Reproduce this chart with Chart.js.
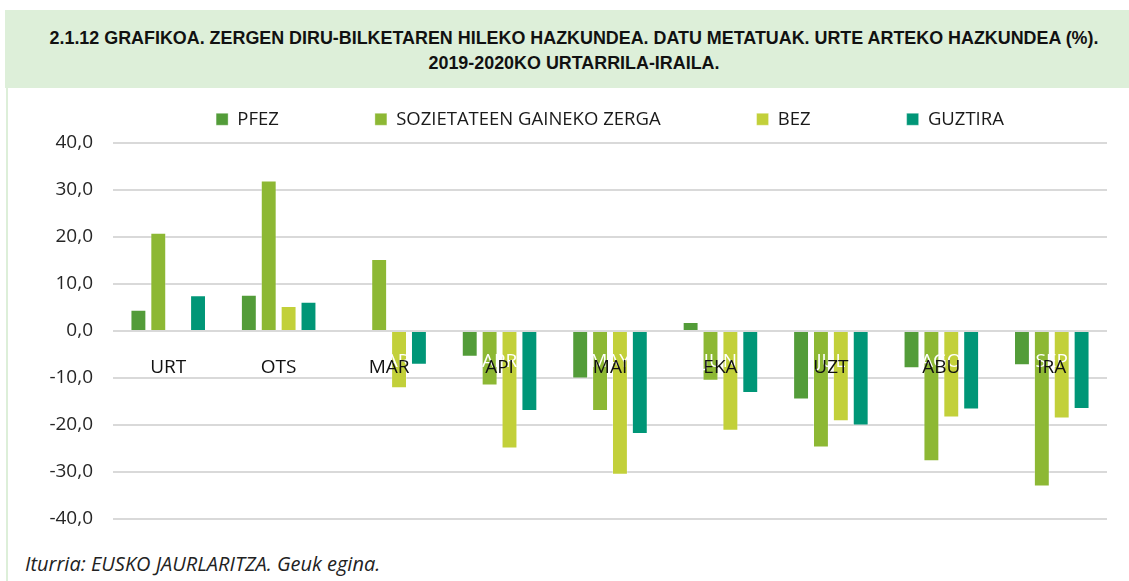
<!DOCTYPE html>
<html>
<head>
<meta charset="utf-8">
<script src="https://cdn.jsdelivr.net/npm/chart.js@4.4.1/dist/chart.umd.min.js"></script>
<style>
  html, body { margin: 0; padding: 0; background: #ffffff; }
  body { width: 1129px; height: 581px; position: relative; overflow: hidden; }
  #header {
    position: absolute; left: 5px; top: 10px; width: 1124px; height: 78px;
    background: #DDEFD9; text-align: center; box-sizing: border-box; padding-top: 16px; padding-left: 14px;
    font-family: "Liberation Sans", sans-serif; font-weight: bold;
    font-size: 17.9px; line-height: 25px; color: #111;
  }
  #leftline { position: absolute; left: 6px; top: 88px; width: 2px; height: 493px; background: #DDEFD9; }
  #foot {
    position: absolute; left: 25px; top: 550px; font-family: "Open Sans", sans-serif;
    font-style: italic; font-size: 20px; color: #222; white-space: nowrap;
  }
  #wrap { position: absolute; left: 0; top: 0; width: 1129px; height: 581px; }
</style>
</head>
<body>
<div id="header">2.1.12 GRAFIKOA. ZERGEN DIRU-BILKETAREN HILEKO HAZKUNDEA. DATU METATUAK. URTE ARTEKO HAZKUNDEA (%).<br>2019-2020KO URTARRILA-IRAILA.</div>
<div id="leftline"></div>
<div id="foot">Iturria: EUSKO JAURLARITZA. Geuk egina.</div>
<div id="wrap"><canvas id="c" width="1129" height="581"></canvas></div>
<script>
const categories = ['URT', 'OTS', 'MAR', 'API', 'MAI', 'EKA', 'UZT', 'ABU', 'IRA'];
const ghostLabels = ['JAN', 'FEB', 'MAR', 'APR', 'MAY', 'JUN', 'JUL', 'AGO', 'SEP'];
const seriesNames = ['PFEZ', 'SOZIETATEEN GAINEKO ZERGA', 'BEZ', 'GUZTIRA'];
const pfez = [4.5, 7.7, null, -5.5, -10.1, 1.9, -14.6, -7.9, -7.3];
const sozietateak = [20.9, 32.0, 15.3, -11.6, -17.0, -10.6, -24.8, -27.7, -33.1];
const bez = [null, 5.3, -12.2, -25.0, -30.6, -21.2, -19.2, -18.4, -18.6];
const guztira = [7.6, 6.2, -7.2, -17.0, -21.9, -13.2, -20.1, -16.7, -16.6];
const yMin = -40, yMax = 40, yStep = 10;

const colors = ['#539C39', '#8DB834', '#C2D03A', '#009677'];
const values = [pfez, sozietateak, bez, guztira];

const datasets = seriesNames.map((name, i) => ({
  label: name,
  data: values[i],
  backgroundColor: colors[i],
  borderColor: 'rgba(255,255,255,0.35)',
  borderWidth: 1,
  categoryPercentage: 0.72,
  barPercentage: 0.8,
  xAxisID: 'x'
}));

new Chart(document.getElementById('c'), {
  type: 'bar',
  data: { labels: categories, datasets },
  options: {
    responsive: false,
    animation: false,
    layout: { padding: { top: 14, left: 0, right: 22, bottom: 62 } },
    plugins: {
      legend: {
        position: 'top',
        fullSize: false,
        labels: {
          boxWidth: 12, boxHeight: 12, padding: 96,
          color: '#1a1a1a',
          font: { family: 'Open Sans', size: 18.5 }
        }
      },
      tooltip: { enabled: false }
    },
    scales: {
      x: {
        type: 'category',
        position: { y: 0 },
        grid: { display: false, drawTicks: false },
        border: { display: false },
        ticks: { z: 2, color: '#111', padding: 25, font: { family: 'Open Sans', size: 19 }, maxRotation: 0 }
      },
      x2: {
        type: 'category',
        labels: ghostLabels,
        position: { y: 0 },
        grid: { display: false, drawTicks: false },
        border: { display: false },
        ticks: { z: 1, color: '#ffffff', padding: 19, font: { family: 'Open Sans', size: 19 }, maxRotation: 0 }
      },
      xTop: {
        type: 'category',
        position: 'top',
        grid: { display: false, drawTicks: false },
        border: { display: false },
        ticks: { display: false },
        afterFit: (s) => { s.height = 4.5; }
      },
      y: {
        min: yMin, max: yMax,
        afterFit: (s) => { s.width = 113; },
        grid: { color: '#D9D9D9', lineWidth: 2, drawTicks: false },
        border: { display: false },
        ticks: {
          stepSize: yStep, padding: 20, color: '#262626',
          font: { family: 'Open Sans', size: 19 },
          callback: (v) => v.toFixed(1).replace('.', ',')
        }
      }
    }
  }
});
</script>
</body>
</html>
